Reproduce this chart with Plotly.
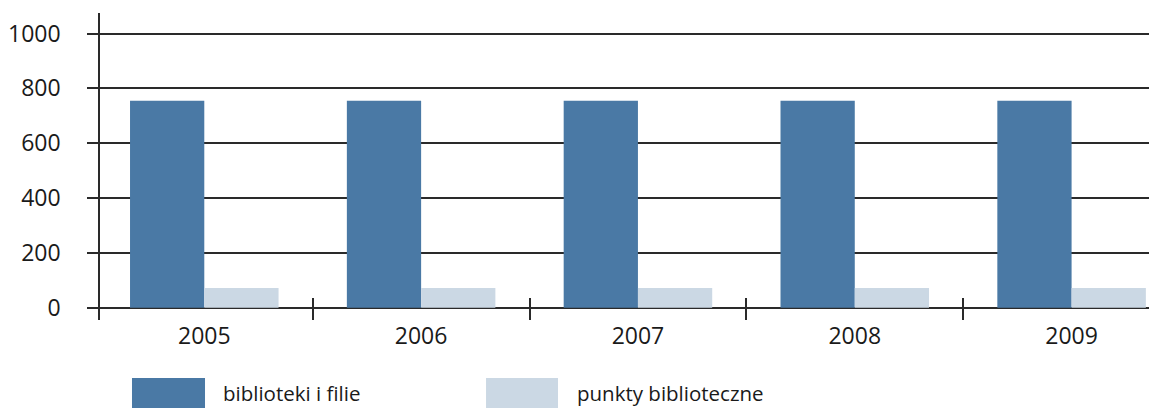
import plotly.graph_objects as go

years = ["2005", "2006", "2007", "2008", "2009"]
series_names = ["biblioteki i filie", "punkty biblioteczne"]
biblioteki = [755, 755, 755, 755, 755]
punkty = [72, 72, 72, 72, 72]
colors = ["#4a79a5", "#cbd8e4"]
y_ticks = [0, 200, 400, 600, 800, 1000]

FONT = "Open Sans"
TXT = "#1a1a1a"
LINE = "#2a2a2a"

fig = go.Figure()
for name, vals, col in zip(series_names, [biblioteki, punkty], colors):
    fig.add_trace(go.Bar(x=years, y=vals, name=name, marker_color=col,
                         marker_line_width=0, showlegend=False))

# custom legend (swatches + labels) in paper coordinates
legend_pos = [(0.0305, 0.1001, 0.1153), (0.368, 0.4366, 0.4528)]
for (x0, x1, xt), name, col in zip(legend_pos, series_names, colors):
    fig.add_shape(type="rect", xref="paper", yref="paper", x0=x0, x1=x1,
                  y0=-0.29, y1=-0.189, fillcolor=col, line_width=0)
    fig.add_annotation(xref="paper", yref="paper", x=xt, y=-0.238, text=name,
                       showarrow=False, xanchor="left", yanchor="middle",
                       font=dict(family=FONT, size=20.5, color=TXT))

fig.update_layout(
    width=1149, height=408,
    margin=dict(l=100, r=0, t=13, b=88),
    paper_bgcolor="white", plot_bgcolor="white",
    barmode="group", bargap=0.315, bargroupgap=0,
    font=dict(family=FONT, size=23, color=TXT),
    xaxis=dict(
        type="category", range=[-0.481, 4.357],
        tickson="boundaries", ticks="inside", ticklen=22,
        tickwidth=1.5, tickcolor=LINE, showgrid=False, showline=False,
        zeroline=False, tickfont=dict(family=FONT, size=23, color=TXT),
    ),
    yaxis=dict(
        range=[-45, 1075], tickvals=y_ticks, ticks="outside", ticklen=11,
        tickwidth=1.5, tickcolor=LINE, showgrid=True, gridcolor=LINE,
        gridwidth=1.5, zeroline=True, zerolinecolor=LINE, zerolinewidth=1.5,
        showline=True, linecolor=LINE, linewidth=1.5,
        ticklabelstandoff=22,
        tickfont=dict(family=FONT, size=23, color=TXT),
    ),
)

fig.write_html("out.html", config={"displayModeBar": False},
               post_script="document.body.style.margin='0';"
                           "document.body.style.overflow='hidden';")
